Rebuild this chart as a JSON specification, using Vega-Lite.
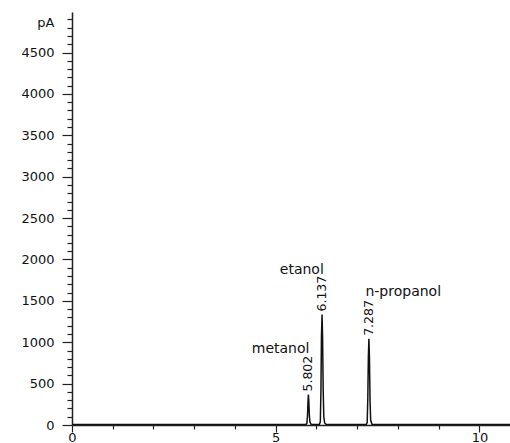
{
  "$schema": "https://vega.github.io/schema/vega-lite/v6.json",
  "width": 438,
  "height": 413,
  "autosize": {"type": "none"},
  "padding": {"left": 72, "top": 12, "right": 0, "bottom": 18},
  "background": "white",
  "config": {
    "font": "DejaVu Sans",
    "view": {"stroke": null},
    "axis": {
      "grid": false,
      "domainColor": "#222",
      "tickColor": "#222",
      "labelColor": "#111",
      "labelFont": "DejaVu Sans",
      "labelFontSize": 13,
      "domainWidth": 1.5,
      "tickWidth": 1.2
    }
  },
  "datasets": {
    "signal": [
      {"t": 0, "pA": 5},
      {"t": 5.74, "pA": 5},
      {"t": 5.765, "pA": 20},
      {"t": 5.78, "pA": 110},
      {"t": 5.792, "pA": 280},
      {"t": 5.802, "pA": 368},
      {"t": 5.812, "pA": 290},
      {"t": 5.825, "pA": 120},
      {"t": 5.84, "pA": 35},
      {"t": 5.87, "pA": 8},
      {"t": 6.07, "pA": 6},
      {"t": 6.095, "pA": 40},
      {"t": 6.11, "pA": 420},
      {"t": 6.122, "pA": 1050},
      {"t": 6.137, "pA": 1335},
      {"t": 6.15, "pA": 1060},
      {"t": 6.165, "pA": 420},
      {"t": 6.18, "pA": 100},
      {"t": 6.2, "pA": 25},
      {"t": 6.24, "pA": 6},
      {"t": 7.22, "pA": 5},
      {"t": 7.245, "pA": 30},
      {"t": 7.26, "pA": 320},
      {"t": 7.274, "pA": 830},
      {"t": 7.287, "pA": 1041},
      {"t": 7.3, "pA": 820},
      {"t": 7.315, "pA": 300},
      {"t": 7.33, "pA": 60},
      {"t": 7.36, "pA": 10},
      {"t": 7.4, "pA": 5},
      {"t": 10.75, "pA": 5}
    ],
    "peaks": [
      {"rt": 5.802, "h": 368, "label": "5.802"},
      {"rt": 6.137, "h": 1335, "label": "6.137"},
      {"rt": 7.287, "h": 1041, "label": "7.287"}
    ],
    "names": [
      {"x": 5.12, "y": 924, "name": "metanol"},
      {"x": 5.64, "y": 1878, "name": "etanol"},
      {"x": 8.13, "y": 1604, "name": "n-propanol"}
    ]
  },
  "layer": [
    {
      "data": {"name": "signal"},
      "mark": {"type": "line", "color": "#111", "strokeWidth": 1.5, "clip": true},
      "encoding": {
        "x": {
          "field": "t", "type": "quantitative",
          "scale": {"domain": [0, 10.75], "nice": false, "zero": false},
          "axis": {"values": [0, 5, 10], "tickSize": 7, "labelPadding": -1, "title": null, "labelFlush": false, "orient": "bottom", "format": "d"}
        },
        "y": {
          "field": "pA", "type": "quantitative",
          "scale": {"domain": [0, 4990], "nice": false},
          "axis": {
            "values": [0, 500, 1000, 1500, 2000, 2500, 3000, 3500, 4000, 4500],
            "format": "d",
            "tickSize": 10, "labelPadding": 8, "orient": "left",
            "title": "pA", "titleAngle": 0, "titleAlign": "right", "titleBaseline": "middle",
            "titleX": -18, "titleY": 10, "titleFont": "DejaVu Sans", "titleFontSize": 13, "titleFontWeight": "normal", "titleColor": "#111"
          }
        }
      }
    },
    {
      "data": {"name": "signal"},
      "mark": {"type": "line", "opacity": 0},
      "encoding": {
        "x": {
          "field": "t", "type": "quantitative",
          "axis": {"values": [1, 2, 3, 4, 6, 7, 8, 9], "tickSize": 4, "labels": false, "domain": false, "title": null, "orient": "bottom"}
        },
        "y": {
          "field": "pA", "type": "quantitative",
          "axis": {
            "values": [100, 200, 300, 400, 600, 700, 800, 900, 1100, 1200, 1300, 1400, 1600, 1700, 1800, 1900, 2100, 2200, 2300, 2400, 2600, 2700, 2800, 2900, 3100, 3200, 3300, 3400, 3600, 3700, 3800, 3900, 4100, 4200, 4300, 4400, 4600, 4700, 4800, 4900],
            "tickSize": 5, "labels": false, "domain": false, "title": null, "orient": "left"
          }
        }
      }
    },
    {
      "data": {"name": "peaks"},
      "mark": {"type": "text", "angle": 270, "align": "left", "baseline": "middle", "dx": 3, "fontSize": 12.5, "color": "#111", "font": "DejaVu Sans"},
      "encoding": {
        "x": {"field": "rt", "type": "quantitative", "axis": null},
        "y": {"field": "h", "type": "quantitative", "axis": null},
        "text": {"field": "label"}
      }
    },
    {
      "data": {"name": "names"},
      "mark": {"type": "text", "align": "center", "baseline": "middle", "fontSize": 14, "color": "#111", "font": "DejaVu Sans"},
      "encoding": {
        "x": {"field": "x", "type": "quantitative", "axis": null},
        "y": {"field": "y", "type": "quantitative", "axis": null},
        "text": {"field": "name"}
      }
    }
  ],
  "resolve": {"axis": {"x": "independent", "y": "independent"}}
}
